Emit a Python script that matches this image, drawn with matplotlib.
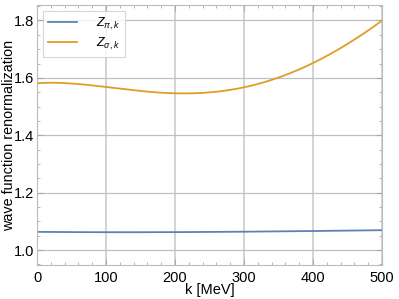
import numpy as np
import matplotlib.pyplot as plt
from matplotlib.ticker import MultipleLocator
from numpy.polynomial import polynomial as P

# values
k = [0, 50, 100, 150, 200, 250, 300, 350, 400, 450, 500]
z_pi = [1.063, 1.063, 1.063, 1.062, 1.062, 1.063, 1.064, 1.065, 1.067, 1.068, 1.069]
z_sigma = [1.582, 1.578, 1.570, 1.556, 1.545, 1.548, 1.567, 1.603, 1.652, 1.717, 1.800]

plt.rcParams['font.family'] = ['Liberation Sans', 'DejaVu Sans']
plt.rcParams['mathtext.fontset'] = 'custom'
plt.rcParams['mathtext.it'] = 'Liberation Sans:italic'
plt.rcParams['mathtext.rm'] = 'Liberation Sans'

fig = plt.figure(figsize=(3.99, 2.99), dpi=100)
ax = fig.add_axes([37 / 399, 34 / 299, 345 / 399, 260 / 299])

# smooth curves through the read points
kk = np.linspace(0, 500, 300)
cp = P.polyfit(k, z_pi, 3)
cs = P.polyfit(k, z_sigma, 5)
ax.plot(kk, P.polyval(kk, cp), color='#5E81B5', lw=1.3, label=r'$Z_{\pi,k}$')
ax.plot(kk, P.polyval(kk, cs), color='#E19C24', lw=1.3, label=r'$Z_{\sigma,k}$')

ax.set_xlim(0, 500)
ax.set_ylim(0.948, 1.854)
ax.xaxis.set_major_locator(MultipleLocator(100))
ax.xaxis.set_minor_locator(MultipleLocator(20))
ax.yaxis.set_major_locator(MultipleLocator(0.2))
ax.yaxis.set_minor_locator(MultipleLocator(0.05))
ax.yaxis.set_major_formatter(plt.FuncFormatter(lambda v, p: '%.1f' % v))
ax.tick_params(which='both', direction='in', top=True, right=True,
               color='#aaaaaa', labelsize=10.5, pad=4)
ax.tick_params(which='major', length=4)
ax.tick_params(which='minor', length=2)
ax.tick_params(axis='y', pad=2)
for s in ax.spines.values():
    s.set_color('#bbbbbb')

ax.grid(True, axis='x', color='#d0d0d0', lw=1.3)
ax.grid(True, axis='y', color='#c0c0c0', lw=0.9)

ax.set_xlabel('k [MeV]', fontsize=10.5, labelpad=-1)
ax.set_ylabel('wave function renormalization', fontsize=10.4)
ax.yaxis.set_label_coords(-21 / 345, 0.5)

leg = ax.legend(loc='upper left', bbox_to_anchor=(6 / 345, 1 - 6 / 260),
                borderaxespad=0, fontsize=9, frameon=True, fancybox=False,
                handlelength=2.3, handletextpad=1.5, borderpad=0.4,
                labelspacing=0.3)
leg.get_frame().set_edgecolor('#cccccc')
leg.get_frame().set_linewidth(0.8)

fig.savefig('out.png', dpi=100)
